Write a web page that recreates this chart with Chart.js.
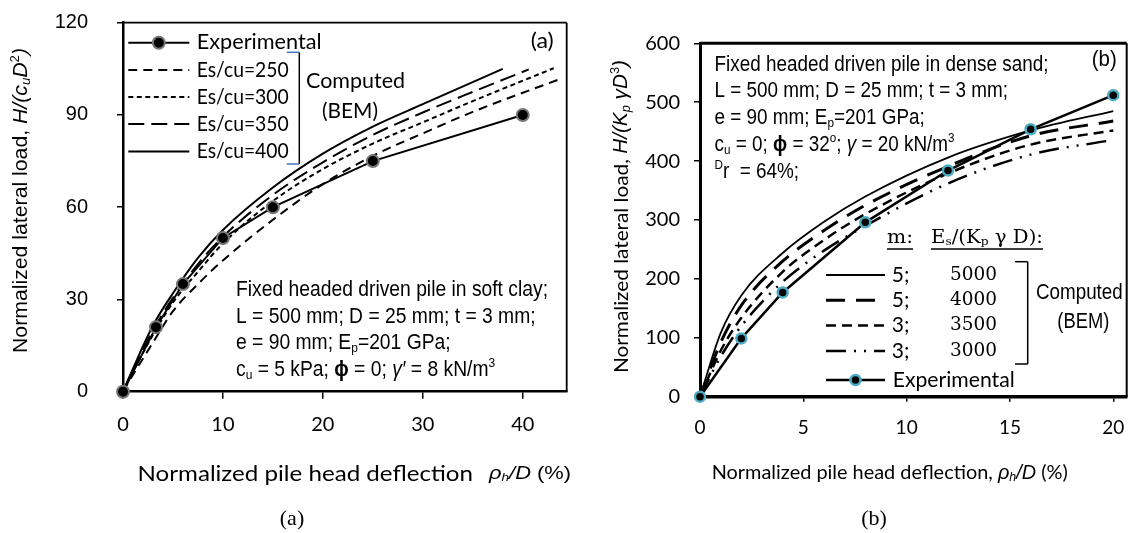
<!DOCTYPE html>
<html>
<head>
<meta charset="utf-8">
<script src="https://cdn.jsdelivr.net/npm/chart.js@4.4.0/dist/chart.umd.min.js"></script>
<style>
body { margin: 0; background: #fff; width: 1130px; height: 533px; position: relative; overflow: hidden; }
canvas { position: absolute; top: 0; }
#ca { left: 0; }
#cb { left: 580px; }
.cap { position: absolute; top: 505px; font: 22px 'Liberation Serif', serif; transform: translateX(-50%); }
</style>
</head>
<body>
<canvas id="ca" width="580" height="533"></canvas>
<canvas id="cb" width="550" height="533"></canvas>
<div class="cap" style="left:292px">(a)</div>
<div class="cap" style="left:874px">(b)</div>
<script>
// ---- panel (a): soft clay ----
const aXTicks = [0, 10, 20, 30, 40];
const aYTicks = [0, 30, 60, 90, 120];
const aExpX = [0, 3.3, 6, 10, 15, 25, 40];
const aExpY = [0, 21, 35, 50, 60, 75, 90];
const aLabels = ['Es/cu=250', 'Es/cu=300', 'Es/cu=350', 'Es/cu=400'];
const a250X = [0, 1, 3, 5, 7.5, 10, 15, 20, 25, 30, 35, 43.9];
const a250Y = [0, 5.5, 16, 26.2, 35, 42.7, 55.9, 67.5, 76.7, 84, 91, 101.9];
const a300X = [0, 1, 3, 5, 7.5, 10, 15, 20, 25, 30, 35, 43.1];
const a300Y = [0, 6.5, 18.5, 29, 39, 48.2, 62, 72.4, 80.7, 87.6, 94.5, 105.2];
const a350X = [0, 1, 3, 5, 7.5, 10, 15, 20, 25, 30, 35, 40.6];
const a350Y = [0, 7, 20, 30.5, 41.5, 50.4, 64, 74.6, 83.5, 90.8, 97.5, 104.8];
const a400X = [0, 1, 3, 5, 7.5, 10, 15, 20, 25, 30, 38];
const a400Y = [0, 7.5, 21.5, 32, 43.5, 52.6, 66.4, 77.4, 86.2, 93.5, 105];

// ---- panel (b): dense sand ----
const bXTicks = [0, 5, 10, 15, 20];
const bYTicks = [0, 100, 200, 300, 400, 500, 600];
const bExpX = [0, 2, 4, 8, 12, 16, 20];
const bExpY = [0, 99, 177, 296, 384, 454, 512];
const bX = [0, 1, 2, 4, 6, 8, 12, 16, 20];
const b5000 = [0, 108, 172, 244, 297, 340, 406, 452, 485];
const b4000 = [0, 92, 155, 230, 282, 325, 391, 443, 468];
const b3500 = [0, 78, 134, 212, 266, 310, 379, 428, 452];
const b3000 = [0, 68, 120, 195, 248, 290, 362, 411, 436];
const bM = ['5;', '5;', '3;', '3;'];
const bEs = ['5000', '4000', '3500', '3000'];

const pts = (xs, ys) => xs.map((x, i) => ({ x: x, y: ys[i] }));

function curve(label, data, dash, width) {
  return { label: label, data: data, borderColor: '#000', borderWidth: width, borderDash: dash,
           pointRadius: 0, cubicInterpolationMode: 'monotone', fill: false };
}

// rich text: runs are strings or {t, i, b, sub, sup, f}
function runFont(r, size, fam) {
  const s = (r.sub || r.sup) ? size * 0.62 : size;
  return (r.i ? 'italic ' : '') + (r.b ? 'bold ' : '') + s + 'px ' + (r.f || fam);
}
function richWidth(ctx, runs, size, fam) {
  let w = 0;
  runs.forEach(r => {
    if (typeof r === 'string') r = { t: r };
    ctx.font = runFont(r, size, fam);
    w += ctx.measureText(r.t).width;
  });
  return w;
}
function rich(ctx, runs, x, y, o) {
  const w = richWidth(ctx, runs, o.size, o.fam);
  const k = o.width ? o.width / w : (o.k || 1);
  ctx.save();
  ctx.translate(x, y);
  if (o.rot) ctx.rotate(o.rot);
  if (o.align === 'center') ctx.translate(-w * k / 2, 0);
  ctx.scale(k, 1);
  ctx.textBaseline = 'middle';
  ctx.textAlign = 'left';
  ctx.fillStyle = '#000';
  let cx = 0;
  runs.forEach(r => {
    if (typeof r === 'string') r = { t: r };
    ctx.font = runFont(r, o.size, o.fam);
    const dy = r.sub ? o.size * 0.22 : (r.sup ? -o.size * 0.32 : 0);
    ctx.fillText(r.t, cx, dy);
    cx += ctx.measureText(r.t).width;
  });
  ctx.restore();
  return w * k;
}
function block(ctx, lines, x, y0, dy, size, fam, width) {
  const k = width / richWidth(ctx, lines[0], size, fam);
  lines.forEach((ln, i) => rich(ctx, ln, x, y0 + i * dy, { size: size, fam: fam, k: k }));
}
function sample(ctx, ds, x1, x2, y) {
  ctx.save();
  ctx.strokeStyle = '#000';
  ctx.lineWidth = ds.borderWidth;
  ctx.setLineDash(ds.borderDash || []);
  ctx.beginPath(); ctx.moveTo(x1, y); ctx.lineTo(x2, y); ctx.stroke();
  if (ds.pointRadius) {
    ctx.setLineDash([]);
    ctx.fillStyle = ds.pointBackgroundColor;
    ctx.strokeStyle = ds.pointBorderColor;
    ctx.lineWidth = ds.pointBorderWidth;
    ctx.beginPath(); ctx.arc((x1 + x2) / 2, y, ds.pointRadius, 0, Math.PI * 2); ctx.fill(); ctx.stroke();
  }
  ctx.restore();
}
function hline(ctx, x1, y1, x2, y2, w, c) {
  ctx.save(); ctx.strokeStyle = c || '#000'; ctx.lineWidth = w;
  ctx.beginPath(); ctx.moveTo(x1, y1); ctx.lineTo(x2, y2); ctx.stroke(); ctx.restore();
}

function axes(xmax, xticks, ymax, yticks, o) {
  return {
    x: { type: 'linear', min: 0, max: xmax,
         afterBuildTicks: s => { s.ticks = xticks.map(v => ({ value: v })); },
         afterFit: s => { s.height = 60; s.paddingLeft = 0; s.paddingRight = 0; },
         ticks: { padding: o.xpad, color: '#000', font: { family: 'Lato', size: o.xsize }, maxRotation: 0 },
         grid: { drawOnChartArea: false, tickLength: o.xtick, color: '#000', lineWidth: 1.5 },
         border: { color: '#000', width: o.xborder } },
    y: { type: 'linear', min: 0, max: ymax,
         afterBuildTicks: s => { s.ticks = yticks.map(v => ({ value: v })); },
         afterFit: s => { s.width = o.yw; s.paddingTop = 0; s.paddingBottom = 0; },
         ticks: { padding: o.ypad, color: '#000', font: { family: o.yfam, size: 20 } },
         grid: { drawOnChartArea: false, tickLength: 6, color: '#000', lineWidth: 1.5 },
         border: { color: '#000', width: o.yborder } }
  };
}

const expA = { label: 'Experimental', data: pts(aExpX, aExpY), borderColor: '#000', borderWidth: 2,
  pointRadius: 6, pointBackgroundColor: '#000', pointBorderColor: '#777', pointBorderWidth: 2, tension: 0, clip: false };

const decoA = {
  id: 'decoA',
  afterDraw(chart) {
    const ctx = chart.ctx, a = chart.chartArea;
    hline(ctx, a.left, a.top, a.right, a.top, 1.8);
    hline(ctx, a.right, a.top, a.right, a.bottom, 1.8);
    // legend
    const ds = chart.data.datasets;
    const rows = [42.7, 70, 96.9, 124, 151.4];
    ds.forEach((d, i) => {
      sample(ctx, d, 128.3, 189.3, rows[i]);
      rich(ctx, [d.label], 196.7, rows[i], { size: 21, fam: 'Lato', width: i === 0 ? 125 : 92 });
    });
    hline(ctx, 299.3, 52.3, 299.3, 164, 1.5);
    hline(ctx, 286.7, 52.3, 299.3, 52.3, 1.5, '#4472C4');
    hline(ctx, 286.7, 164, 299.3, 164, 1.5, '#4472C4');
    rich(ctx, ['Computed'], 306, 81, { size: 21, fam: 'Lato', width: 99 });
    rich(ctx, ['(BEM)'], 350, 111.7, { size: 21, fam: 'Lato', width: 56, align: 'center' });
    rich(ctx, ['(a)'], 530.7, 41.7, { size: 21, fam: 'Lato', width: 23 });
    // note
    const fam = "'Liberation Sans Narrow', 'Liberation Sans', Arial";
    block(ctx, [
      ['Fixed headed driven pile in soft clay;'],
      ['L = 500 mm; D = 25 mm; t = 3 mm;'],
      ['e = 90 mm; E', { t: 'p', sub: true }, '=201 GPa;'],
      ['c', { t: 'u', sub: true }, ' = 5 kPa; ', { t: 'ϕ', b: true }, ' = 0; ', { t: 'γ′', i: true }, ' = 8 kN/m', { t: '3', sup: true }]
    ], 236, 290, 26.7, 22, fam, 312);
    // axis titles
    rich(ctx, ['Normalized lateral load, ', { t: 'H/(c', i: true }, { t: 'u', i: true, sub: true },
      { t: 'D', i: true }, { t: '2', sup: true }, { t: ')', i: true }], 21.7, 200.5,
      { size: 20, fam: 'Liberation Sans', width: 305, align: 'center', rot: -Math.PI / 2 });
    rich(ctx, ['Normalized pile head deflection'], 137.5, 474, { size: 22, fam: 'Lato', width: 335.5 });
    rich(ctx, [{ t: 'ρ', i: true }, { t: 'h', i: true, sub: true }, { t: '/D', i: true }, ' (%)'], 489, 474,
      { size: 19, fam: 'Liberation Sans', width: 82 });
  }
};

new Chart('ca', {
  type: 'line',
  data: { datasets: [
    expA,
    curve(aLabels[0], pts(a250X, a250Y), [9, 6], 2),
    curve(aLabels[1], pts(a300X, a300Y), [5, 3.5], 2),
    curve(aLabels[2], pts(a350X, a350Y), [16, 7], 2),
    curve(aLabels[3], pts(a400X, a400Y), [], 2)
  ] },
  options: {
    responsive: false, animation: false, devicePixelRatio: 1,
    layout: { autoPadding: false, padding: { top: 22.7, right: 13.3, left: 0, bottom: 81.3 } },
    plugins: { legend: { display: false }, tooltip: { enabled: false } },
    scales: axes(44.4, aXTicks, 120, aYTicks, { xpad: 14, xsize: 20, xtick: 7, xborder: 2.5, yw: 123, ypad: 29, yfam: 'Liberation Sans', yborder: 2.5 })
  },
  plugins: [decoA]
});

const expB = { label: 'Experimental', data: pts(bExpX, bExpY), borderColor: '#000', borderWidth: 2.5,
  pointRadius: 5, pointBackgroundColor: '#000', pointBorderColor: '#4BACC6', pointBorderWidth: 2.5, tension: 0, clip: false };

const decoB = {
  id: 'decoB',
  afterDraw(chart) {
    const ctx = chart.ctx, a = chart.chartArea;
    hline(ctx, a.left, a.top, a.right, a.top, 3);
    hline(ctx, a.right, a.top, a.right, a.bottom, 2);
    const ds = chart.data.datasets;
    // legend header
    const serif = "'DejaVu Serif', 'Liberation Serif', serif";
    rich(ctx, ['m:'], 307, 238, { size: 19, fam: serif, width: 26 });
    rich(ctx, ['E', { t: 's', sub: true }, '/(K', { t: 'p', sub: true }, ' γ D):'], 351, 238, { size: 19, fam: serif, width: 112 });
    hline(ctx, 307, 249, 333, 249, 1.5);
    hline(ctx, 351, 249, 463, 249, 1.5);
    const rows = [275, 300.3, 325.6, 350.9];
    for (let i = 0; i < 4; i++) {
      sample(ctx, ds[i + 1], 246, 305, rows[i]);
      rich(ctx, [bM[i]], 311.7, rows[i], { size: 21, fam: 'Lato' });
      rich(ctx, [bEs[i]], 370, rows[i], { size: 18, fam: serif, width: 47 });
    }
    sample(ctx, ds[0], 246, 305, 380);
    rich(ctx, [ds[0].label], 312.7, 380, { size: 21, fam: 'Lato', width: 122 });
    hline(ctx, 447.7, 261.7, 447.7, 364, 1.5);
    hline(ctx, 435, 261.7, 447.7, 261.7, 1.5);
    hline(ctx, 435, 364, 447.7, 364, 1.5);
    const fam = "'Liberation Sans Narrow', 'Liberation Sans', Arial";
    rich(ctx, ['Computed'], 456, 293.3, { size: 22, fam: fam, width: 86.7 });
    rich(ctx, ['(BEM)'], 503.3, 321.7, { size: 22, fam: fam, width: 52, align: 'center' });
    rich(ctx, ['(b)'], 511.7, 60, { size: 22, fam: fam, width: 25 });
    block(ctx, [
      ['Fixed headed driven pile in dense sand;'],
      ['L = 500 mm; D = 25 mm; t = 3 mm;'],
      ['e = 90 mm; E', { t: 'p', sub: true }, '=201 GPa;'],
      ['c', { t: 'u', sub: true }, ' = 0; ', { t: 'ϕ', b: true }, ' = 32', { t: 'o', sup: true }, '; ',
       { t: 'γ', i: true }, ' = 20 kN/m', { t: '3', sup: true }],
      [{ t: 'D', sup: true }, 'r  = 64%;']
    ], 134.5, 64.6, 26.8, 22, fam, 334);
    rich(ctx, ['Normalized lateral load, ', { t: 'H/(K', i: true, f: 'Liberation Sans' }, { t: 'p', i: true, sub: true, f: 'Liberation Sans' },
      { t: ' γD', i: true, f: 'Liberation Sans' }, { t: '3', sup: true, f: 'Liberation Sans' }, { t: ')', i: true, f: 'Liberation Sans' }],
      41.7, 216.5, { size: 20, fam: 'Lato', width: 313, align: 'center', rot: -Math.PI / 2 });
    rich(ctx, ['Normalized pile head deflection, ', { t: 'ρ', i: true, f: 'Liberation Sans' }, { t: 'h', i: true, sub: true, f: 'Liberation Sans' },
      { t: '/D', i: true, f: 'Liberation Sans' }, ' (%)'], 131.7, 473, { size: 20, fam: 'Lato', width: 356 });
  }
};

new Chart('cb', {
  type: 'line',
  data: { datasets: [
    expB,
    curve('5000', pts(bX, b5000), [], 1.8),
    curve('4000', pts(bX, b4000), [19, 11], 3),
    curve('3500', pts(bX, b3500), [10, 6], 2.5),
    curve('3000', pts(bX, b3000), [20, 8, 2, 8, 2, 8], 2.5)
  ] },
  options: {
    responsive: false, animation: false, devicePixelRatio: 1,
    layout: { autoPadding: false, padding: { top: 43.3, right: 3.3, left: 0, bottom: 76.3 } },
    plugins: { legend: { display: false }, tooltip: { enabled: false } },
    scales: axes(20.65, bXTicks, 600, bYTicks, { xpad: 15, xsize: 19, xtick: 5, xborder: 3.5, yw: 120, ypad: 14, yfam: 'Lato', yborder: 3 })
  },
  plugins: [decoB]
});
</script>
</body>
</html>
